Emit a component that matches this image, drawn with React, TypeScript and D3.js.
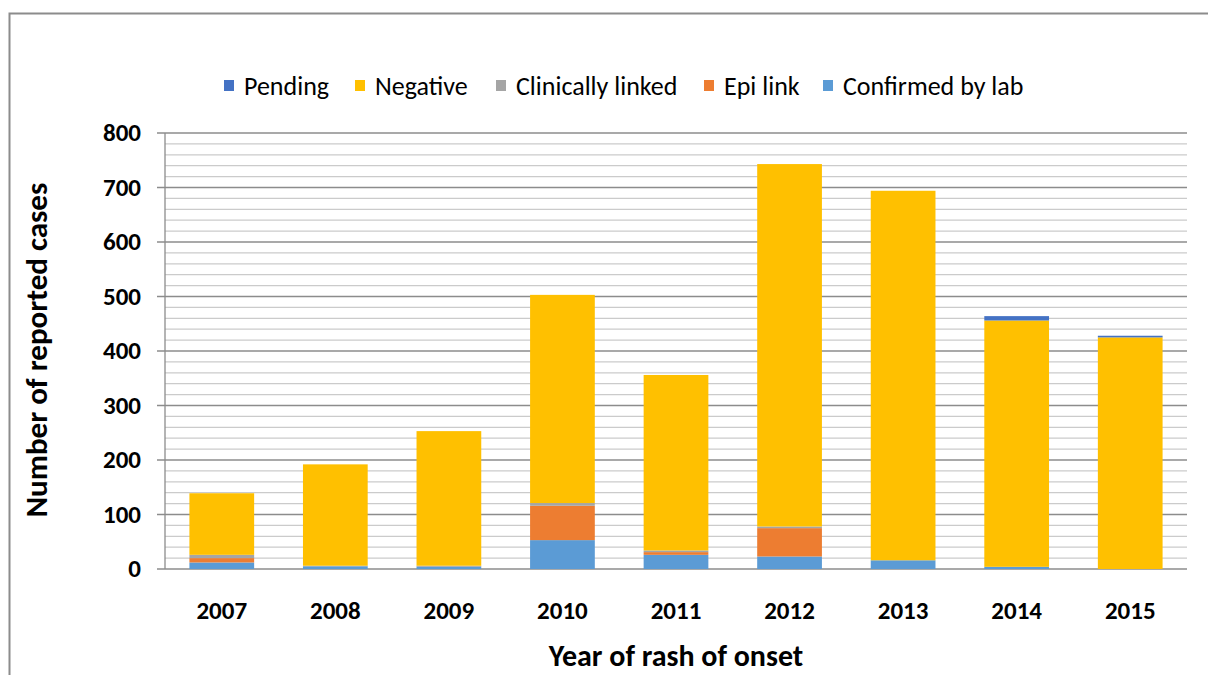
import * as d3 from "d3";

const years = ["2007", "2008", "2009", "2010", "2011", "2012", "2013", "2014", "2015"];
const confirmed = [12, 5, 4, 53, 26, 23, 16, 4, 0];
const epiLink = [8, 0, 0, 63, 5, 52, 0, 0, 0];
const clinical = [6, 1, 2, 5, 3, 3, 0, 0, 0];
const negative = [113, 186, 247, 382, 322, 665, 678, 452, 425];
const pending = [0, 0, 0, 0, 0, 0, 0, 8, 3];

const yTicks = [0, 100, 200, 300, 400, 500, 600, 700, 800];

const SERIES = [
  { key: "confirmed", label: "Confirmed by lab", color: "#5B9BD5", values: confirmed },
  { key: "epi", label: "Epi link", color: "#ED7D31", values: epiLink },
  { key: "clinical", label: "Clinically linked", color: "#A5A5A5", values: clinical },
  { key: "negative", label: "Negative", color: "#FFC000", values: negative },
  { key: "pending", label: "Pending", color: "#4472C4", values: pending },
];

const FONT = "Carlito, Calibri, Lato, 'Open Sans', sans-serif";

export default function App() {
  const W = 1208;
  const H = 675;
  const left = 165;
  const right = 1187;
  const top = 133;
  const bottom = 569;

  const x = d3.scaleBand<string>().domain(years).range([left, right]).paddingInner(0.43).paddingOuter(0.215);
  const y = d3.scaleLinear().domain([0, 800]).range([bottom, top]);

  const rows = years.map((yr, i) => {
    const r: Record<string, number | string> = { year: yr };
    SERIES.forEach((s) => (r[s.key] = s.values[i]));
    return r;
  });
  const stack = d3.stack<Record<string, number | string>>().keys(SERIES.map((s) => s.key)).value((d, k) => d[k] as number);
  const layers = stack(rows);

  const minor = d3.range(20, 801, 20).filter((v) => v % 100 !== 0);
  const legendOrder = [...SERIES].reverse();
  const legendX = [224, 355, 496, 704, 823];

  return (
    <svg width={W} height={H} style={{ position: "absolute", left: 0, top: 0, background: "#fff" }}>
      <rect x={9.5} y={13.5} width={1220} height={700} fill="#fff" stroke="#8c8c8c" strokeWidth={2} />
      {minor.map((v) => (
        <line key={"m" + v} x1={left} x2={right} y1={y(v)} y2={y(v)} stroke="#cbcbcb" strokeWidth={1.3} />
      ))}
      {yTicks.map((v) => (
        <line key={"M" + v} x1={157} x2={right} y1={y(v)} y2={y(v)} stroke="#8c8c8c" strokeWidth={1.3} />
      ))}
      <line x1={left} x2={left} y1={top} y2={bottom} stroke="#8c8c8c" strokeWidth={1.3} />
      {layers.map((layer, li) => (
        <g key={layer.key} fill={SERIES[li].color}>
          {layer.map((d, i) =>
            d[1] - d[0] > 0 ? (
              <rect key={i} x={x(years[i])} width={x.bandwidth()} y={y(d[1])} height={y(d[0]) - y(d[1])} />
            ) : null
          )}
        </g>
      ))}
      {yTicks.map((v) => (
        <text key={"t" + v} x={141} y={y(v) + 8} textAnchor="end" fontFamily={FONT} fontWeight="bold" fontSize={25} fill="#000">
          {v}
        </text>
      ))}
      {years.map((yr) => (
        <text key={yr} x={(x(yr) ?? 0) + x.bandwidth() / 2} y={619} textAnchor="middle" fontFamily={FONT} fontWeight="bold" fontSize={25} fill="#000">
          {yr}
        </text>
      ))}
      <text x={676} y={666} textAnchor="middle" fontFamily={FONT} fontWeight="bold" fontSize={30} fill="#000">
        Year of rash of onset
      </text>
      <text transform={`translate(47,350) rotate(-90)`} textAnchor="middle" fontFamily={FONT} fontWeight="bold" fontSize={31} fill="#000">
        Number of reported cases
      </text>
      {legendOrder.map((s, i) => (
        <g key={s.key} transform={`translate(${legendX[i]},0)`}>
          <rect x={0} y={80} width={10} height={11} fill={s.color} />
          <text x={20} y={95} fontFamily={FONT} fontSize={26} fill="#000">
            {s.label}
          </text>
        </g>
      ))}
    </svg>
  );
}
